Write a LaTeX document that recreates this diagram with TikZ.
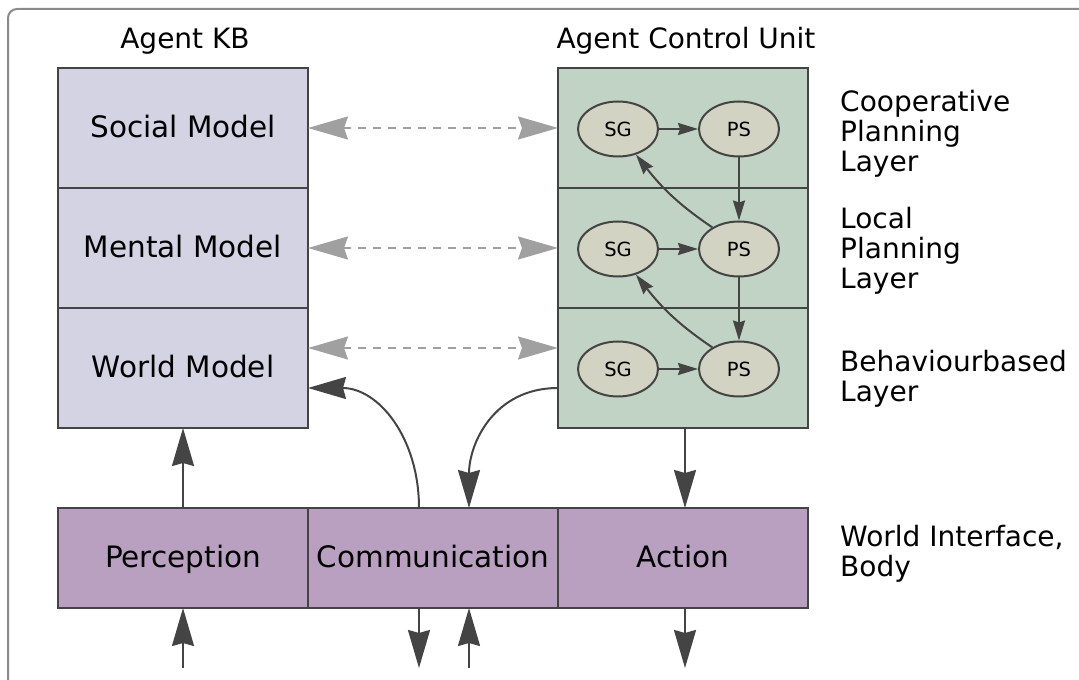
\documentclass[tikz,border=0pt]{standalone}
\usepackage{fontspec}
\setmainfont{DejaVu Sans}
\usetikzlibrary{arrows.meta,shapes.geometric}
\definecolor{kbfill}{HTML}{D3D3E3}
\definecolor{cufill}{HTML}{C1D3C5}
\definecolor{elfill}{HTML}{D3D3C3}
\definecolor{wifill}{HTML}{B9A0C1}
\definecolor{edgegray}{HTML}{444444}
\definecolor{dashgray}{HTML}{A0A0A0}
\definecolor{framegray}{HTML}{8A8A8A}

\begin{document}
\begin{tikzpicture}[x=1pt,y=1pt,
  box/.style={draw=edgegray, line width=2pt, minimum width=250pt, minimum height=120pt,
    inner sep=0pt, outer sep=0pt, text height=20pt, text depth=0pt,
    font=\fontsize{29.5}{30}\selectfont},
  kb/.style={box, fill=kbfill},
  cu/.style={box, fill=cufill},
  wi/.style={box, fill=wifill, minimum height=100pt},
  proc/.style={ellipse, draw=edgegray, line width=2pt, fill=elfill, minimum width=80pt,
    minimum height=55pt, inner sep=0pt, font=\fontsize{19.5}{20}\selectfont},
  lbl/.style={font=\fontsize{28}{30}\selectfont, inner sep=0pt, align=left},
  big/.style={-{Stealth[length=38pt,width=22pt,inset=3pt]}, draw=edgegray, line width=2pt},
  small/.style={-{Stealth[length=20pt,width=12pt,inset=2pt]}, draw=edgegray, line width=2pt},
  kbsync/.style={{Stealth[length=40pt,width=23pt,inset=4pt]}-{Stealth[length=40pt,width=23pt,inset=4pt]},
    draw=dashgray, line width=2pt, dash pattern=on 8pt off 7pt}
]
\useasboundingbox (0,0) rectangle (1079,680);
\clip (0,0) rectangle (1079,680);

% outer frame
\draw[framegray, line width=2pt, rounded corners=9pt] (8,-40) rectangle (1120,671);

% column titles
\node[lbl, anchor=base] (kbtitle) at (185,631) {Agent KB};
\node[lbl, anchor=base] (cutitle) at (686,631) {Agent Control Unit};

% agent knowledge base
\node[kb] (social) at (183,552) {Social Model};
\node[kb] (mental) at (183,432) {Mental Model};
\node[kb] (world)  at (183,312) {World Model};

% agent control unit layers
\node[cu] (cu1) at (683,552) {};
\node[cu] (cu2) at (683,432) {};
\node[cu] (cu3) at (683,312) {};

% world interface
\node[wi] (perc) at (183,122) {Perception};
\node[wi] (comm) at (433,122) {Communication};
\node[wi] (act)  at (683,122) {Action};

% layer processes
\node[proc] (sg1) at (618,551) {SG};
\node[proc] (ps1) at (739,551) {PS};
\node[proc] (sg2) at (618,431) {SG};
\node[proc] (ps2) at (739,431) {PS};
\node[proc] (sg3) at (618,311) {SG};
\node[proc] (ps3) at (739,311) {PS};

% layer names (anchored at the baseline of their last line)
\node[lbl, anchor=base west] (coop) at (840,508) {Cooperative\\Planning\\Layer};
\node[lbl, anchor=base west] (local) at (840,391) {Local\\Planning\\Layer};
\node[lbl, anchor=base west] (behav) at (840,278) {Behaviourbased\\Layer};
\node[lbl, anchor=base west] (body) at (840,103) {World Interface,\\Body};

% knowledge base synchronisation
\draw[kbsync] (social.east) -- (cu1.west);
\draw[kbsync] (mental.east) -- (cu2.west);
\draw[kbsync] ([yshift=20pt]world.east) -- ([yshift=20pt]cu3.west);

% control flow inside the layers
\draw[small] (sg1) -- (ps1);
\draw[small] (sg2) -- (ps2);
\draw[small] (sg3) -- (ps3);
\draw[small] (ps1) -- (ps2);
\draw[small] (ps2) -- (ps3);
\draw[small] (ps2.141) to[out=146,in=-52] (sg1.-55);
\draw[small] (ps3.141) to[out=146,in=-52] (sg2.-55);

% between the units and the body
\draw[big] (perc.north) -- (world.south);
\draw[big] ([xshift=-14pt]comm.north) to[out=90,in=0,looseness=1.1] ([yshift=-20pt]world.east);
\draw[big] ([yshift=-20pt]cu3.west) to[out=180,in=90,looseness=1.1] ([xshift=36pt]comm.north);
\draw[big] ([xshift=2pt]cu3.south) -- ([xshift=2pt]act.north);

% environment
\coordinate (percin) at (183,12);
\coordinate (commout) at (419,12);
\coordinate (commin) at (469,12);
\coordinate (actout) at (685,12);
\draw[big] (percin) -- (perc.south);
\draw[big] ([xshift=-14pt]comm.south) -- (commout);
\draw[big] (commin) -- ([xshift=36pt]comm.south);
\draw[big] ([xshift=2pt]act.south) -- (actout);
\end{tikzpicture}
\end{document}
